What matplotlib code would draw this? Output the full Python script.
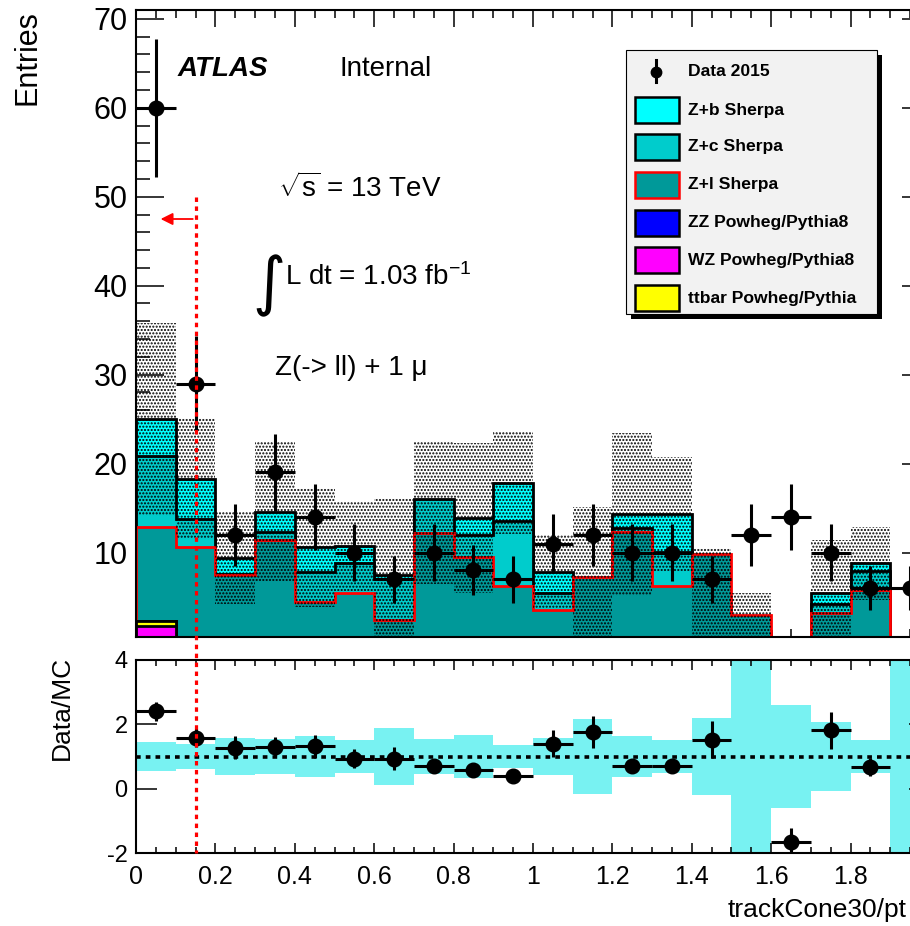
import numpy as np
import matplotlib
matplotlib.use('Agg')
import matplotlib.pyplot as plt
from matplotlib.patches import Rectangle
from matplotlib.lines import Line2D
from matplotlib.ticker import MultipleLocator, FuncFormatter

plt.rcParams['font.family'] = ['Liberation Sans', 'DejaVu Sans']
plt.rcParams['mathtext.fontset'] = 'custom'
plt.rcParams['mathtext.rm'] = 'Liberation Sans'
plt.rcParams['mathtext.it'] = 'Liberation Sans:italic'
plt.rcParams['mathtext.bf'] = 'Liberation Sans:bold'
plt.rcParams['axes.unicode_minus'] = False
plt.rcParams['hatch.linewidth'] = 1.0

# ---------------- data ----------------
bin_edges = [0.0, 0.1, 0.2, 0.3, 0.4, 0.5, 0.6, 0.7, 0.8, 0.9, 1.0,
             1.1, 1.2, 1.3, 1.4, 1.5, 1.6, 1.7, 1.8, 1.9, 2.0]
data_2015 = [60, 29, 12, 19, 14, 10, 7, 10, 8, 7, 11, 12, 10, 10, 7, 12, 14, 10, 6, 6]
mc_wz    = [1.7, 0, 0, 0, 0, 0, 0, 0, 0, 0, 0, 0, 0, 0, 0, 0, 0, 0, 0, 0]
mc_ttbar = [0.6, 0, 0, 0, 0, 0, 0, 0, 0, 0, 0, 0, 0, 0, 0, 0, 0, 0, 0, 0]
mc_zz    = [0.0, 0, 0, 0, 0, 0, 0, 0, 0, 0, 0, 0, 0, 0, 0, 0, 0, 0, 0, 0]
mc_zl = [10.6, 10.6, 7.5, 11.4, 4.4, 5.4, 2.4, 12.2, 9.5, 6.2,
         3.5, 7.3, 12.35, 6.2, 9.8, 3.0, -8.4, 3.2, 5.8, 0.0]
mc_zc = [8.0, 3.2, 0.1, 0.9, 3.4, 3.4, 4.6, 3.8, 2.5, 7.3,
         1.9, -0.5, 0.45, 3.9, -5.2, -1.8, 0.0, 1.0, 2.1, 0.0]
mc_zb = [4.1, 4.5, 1.8, 2.3, 2.8, 1.9, 0.5, -1.5, 1.85, 4.3,
         2.45, 0.0, 1.5, 4.2, 0.0, 0.0, 0.0, 1.3, 0.9, 0.0]
mc_err = [10.8, 6.8, 5.2, 7.8, 6.7, 5.0, 8.5, 8.0, 8.45, 5.7,
          4.15, 8.3, 9.1, 6.4, 5.9, 4.2, 8.0, 5.9, 4.1, 0.0]
ratio_err = [0.44, 0.40, 0.59, 0.54, 0.64, 0.50, 0.88, 0.55, 0.66, 0.36,
             0.56, 1.16, 0.64, 0.50, 1.20, np.inf, 1.60, 1.08, 0.50, np.inf]
cut_value = 0.15
cut_top = 50.0
arrow_y = 47.5
arrow_end = 0.055

legend_labels = ['Data 2015', 'Z+b Sherpa', 'Z+c Sherpa', 'Z+l Sherpa',
                 'ZZ Powheg/Pythia8', 'WZ Powheg/Pythia8', 'ttbar Powheg/Pythia']

# ---------------- derived ----------------
edges = np.array(bin_edges)
centers = 0.5 * (edges[:-1] + edges[1:])
halfw = 0.5 * np.diff(edges)
data = np.array(data_2015, dtype=float)
layers = [  # stack order bottom -> top
    (np.array(mc_wz), '#FF00FF', 'black'),
    (np.array(mc_ttbar), '#FFFF00', 'black'),
    (np.array(mc_zz), '#0000FF', 'black'),
    (np.array(mc_zl), '#009999', 'red'),
    (np.array(mc_zc), '#00CCCC', 'black'),
    (np.array(mc_zb), '#00FFFF', 'black'),
]
cums = np.cumsum([l[0] for l in layers], axis=0)
total = cums[-1]
err = np.array(mc_err)

W, H = 910, 926
def fx(x): return x / W
def fy(y): return 1 - y / H

fig = plt.figure(figsize=(W / 100, H / 100), dpi=100)
ax1 = fig.add_axes([fx(136), fy(637), (930 - 136) / W, (637 - 10) / H])
ax2 = fig.add_axes([fx(136), fy(853), (930 - 136) / W, (853 - 660) / H])

# ---------------- top panel ----------------
ax1.set_xlim(0, 2.0)
ax1.set_ylim(0.5, 71)
for i in reversed(range(len(layers))):
    _, fc, ec = layers[i]
    ax1.stairs(cums[i], edges, baseline=0, fill=True, facecolor=fc,
               edgecolor=ec, linewidth=2.0, zorder=1 + (len(layers) - i) * 0.01)
# uncertainty band (dotted)
ax1.stairs(total + err, edges, baseline=total - err, fill=True,
           facecolor='none', edgecolor='black', linewidth=0, hatch='.....',
           zorder=1.5)
ax1.errorbar(centers, data, xerr=halfw, yerr=np.sqrt(data), fmt='o',
             color='black', ms=10.5, elinewidth=2.2, capsize=0, zorder=5)

ax1.set_axisbelow(True)
ax1.yaxis.set_major_locator(MultipleLocator(10))
ax1.yaxis.set_minor_locator(MultipleLocator(2))
ax1.xaxis.set_major_locator(MultipleLocator(0.2))
ax1.xaxis.set_minor_locator(MultipleLocator(0.05))
ax1.tick_params(axis='y', which='major', direction='in', length=20, width=1.1,
                left=True, right=True, labelsize=22, pad=6)
ax1.tick_params(axis='y', which='minor', direction='in', length=10, width=1.1,
                left=True, right=True)
ax1.tick_params(axis='x', which='major', direction='in', length=12, width=1.1,
                top=True, bottom=True, labelbottom=False)
ax1.tick_params(axis='x', which='minor', direction='in', length=6, width=1.1,
                top=True, bottom=True)
ax1.yaxis.set_major_formatter(FuncFormatter(lambda v, p: '%g' % v))
for s in ax1.spines.values():
    s.set_linewidth(1.5)
    s.set_zorder(4)

ax1.annotate('', xy=(arrow_end, arrow_y), xytext=(cut_value, arrow_y),
             arrowprops=dict(arrowstyle='-|>', color='red', lw=1.3,
                             mutation_scale=18), zorder=6)

# ---------------- ratio panel ----------------
ax2.set_xlim(0, 2.0)
ax2.set_ylim(-2, 4)
rerr = np.clip(np.array(ratio_err), 0, 50)
ax2.stairs(1 + rerr, edges, baseline=1 - rerr, fill=True,
           facecolor='#78F2F2', edgecolor='none', zorder=1)
ax2.axhline(1.0, color='black', lw=2.6, linestyle=(0, (1.3, 1.4)), zorder=3)
mask = total != 0
ratio = data[mask] / total[mask]
ratio_e = np.sqrt(data[mask]) / np.abs(total[mask])
ax2.errorbar(centers[mask], ratio, xerr=halfw[mask], yerr=ratio_e, fmt='o',
             color='black', ms=10.5, elinewidth=2.2, capsize=0, zorder=5)
ax2.yaxis.set_major_locator(MultipleLocator(2))
ax2.xaxis.set_major_locator(MultipleLocator(0.2))
ax2.xaxis.set_minor_locator(MultipleLocator(0.05))
ax2.tick_params(axis='y', which='major', direction='in', length=15, width=1.1,
                left=True, right=True, labelsize=17, pad=6)
ax2.tick_params(axis='x', which='major', direction='in', length=7, width=1.1,
                top=True, bottom=True, labelsize=18, pad=9)
ax2.tick_params(axis='x', which='minor', direction='in', length=4, width=1.1,
                top=True, bottom=True)
ax2.xaxis.set_major_formatter(
    FuncFormatter(lambda v, p: '%g' % round(v, 3) if v < 1.95 else ''))
ax2.yaxis.set_major_formatter(FuncFormatter(lambda v, p: '%g' % round(v, 3)))
for s in ax2.spines.values():
    s.set_linewidth(1.5)
    s.set_zorder(4)

# cut line across both panels
fig.canvas.draw()
inv = fig.transFigure.inverted()
p_top = inv.transform(ax1.transData.transform((cut_value, cut_top)))
p_bot = inv.transform(ax2.transData.transform((cut_value, -2)))
fig.add_artist(Line2D([p_top[0], p_bot[0]], [p_top[1], p_bot[1]],
                      transform=fig.transFigure, color='red', lw=2.3,
                      linestyle=(0, (1.4, 1.4)), zorder=10))

# ---------------- texts ----------------
fig.text(fx(178), fy(76), 'ATLAS', fontsize=20, fontweight='bold',
         fontstyle='italic', va='baseline', ha='left')
fig.text(fx(340), fy(76), 'Internal', fontsize=20, va='baseline', ha='left')
fig.text(fx(278), fy(197), r'$\sqrt{\mathrm{s}}$ = 13 TeV', fontsize=20,
         va='baseline', ha='left')
fig.text(fx(252), fy(303), '\u222b', fontsize=46, va='baseline', ha='left',
         family='DejaVu Sans')
fig.text(fx(285), fy(285), r'L dt = 1.03 fb$^{\mathregular{-1}}$', fontsize=20,
         va='baseline', ha='left')
fig.text(fx(275), fy(375), 'Z(-> ll) + 1 \u03bc', fontsize=20,
         va='baseline', ha='left')
fig.text(fx(28), fy(10), 'Entries', fontsize=22, rotation=90, ha='center',
         va='top')
fig.text(fx(62), fy(656), 'Data/MC', fontsize=19, rotation=90, ha='center',
         va='top')
fig.text(fx(907), fy(922), 'trackCone30/pt', fontsize=19, ha='right',
         va='bottom')

# ---------------- legend ----------------
fig.add_artist(Rectangle((fx(631), fy(319)), (877 - 626) / W, (314 - 50) / H,
                         transform=fig.transFigure, facecolor='black',
                         edgecolor='none', zorder=20))
fig.add_artist(Rectangle((fx(626), fy(314)), (877 - 626) / W, (314 - 50) / H,
                         transform=fig.transFigure, facecolor='#F2F2F2',
                         edgecolor='black', lw=0.8, zorder=21))
entry_y = [72, 110, 147, 185, 223, 260, 298]
swatches = [None, ('#00FFFF', 'black'), ('#00CCCC', 'black'), ('#009999', 'red'),
            ('#0000FF', 'black'), ('#FF00FF', 'black'), ('#FFFF00', 'black')]
for lab, ey, sw in zip(legend_labels, entry_y, swatches):
    if sw is None:
        fig.add_artist(Line2D([fx(656), fx(656)], [fy(ey - 12), fy(ey + 10)],
                              transform=fig.transFigure, color='black', lw=2.2,
                              zorder=22))
        fig.add_artist(Line2D([fx(656)], [fy(ey)], transform=fig.transFigure,
                              marker='o', ms=7.5, color='black', zorder=22))
    else:
        fig.add_artist(Rectangle((fx(635), fy(ey + 13)), 44 / W, 26 / H,
                                 transform=fig.transFigure, facecolor=sw[0],
                                 edgecolor=sw[1], lw=1.8, zorder=22))
    fig.text(fx(688), fy(ey), lab, fontsize=12.6, fontweight='bold',
             va='center', ha='left', zorder=23)

fig.savefig('out.png', dpi=100)
